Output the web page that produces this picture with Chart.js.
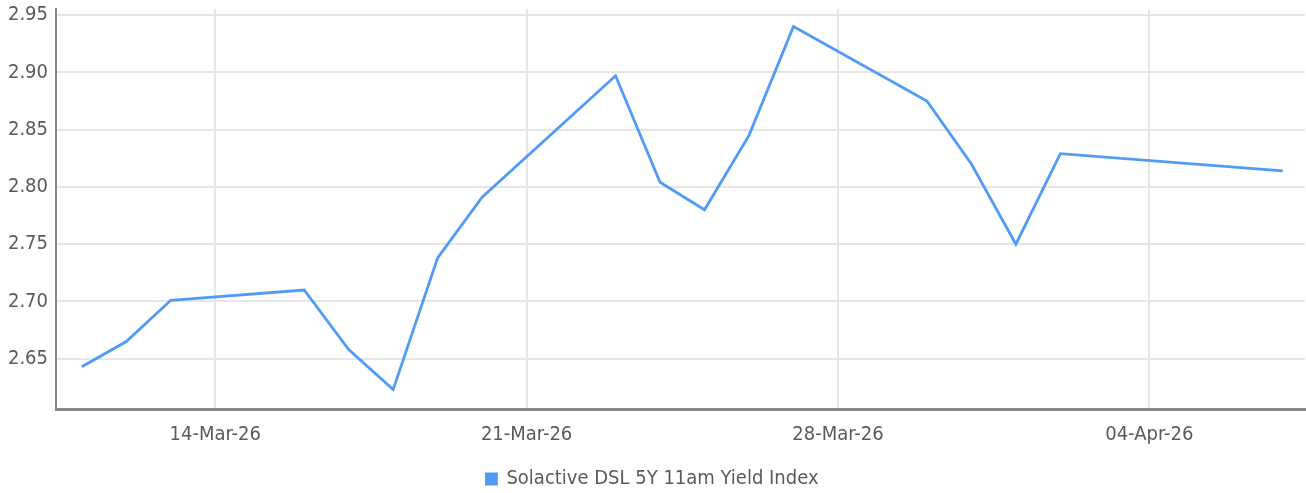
<!DOCTYPE html>
<html>
<head>
<meta charset="utf-8">
<style>
    html, body { margin: 0; padding: 0; background: #fff; }
    #wrap { width: 1306px; height: 493px; position: relative; }
</style>
<script src="https://cdn.jsdelivr.net/npm/chart.js@4/dist/chart.umd.min.js"></script>
</head>
<body>
<div id="wrap"><canvas id="yieldChart"></canvas></div>
<script>
// Data
const dates = [
    '2026-03-11', '2026-03-12', '2026-03-13', '2026-03-16', '2026-03-17', '2026-03-18',
    '2026-03-19', '2026-03-20', '2026-03-23', '2026-03-24', '2026-03-25', '2026-03-26',
    '2026-03-27', '2026-03-30', '2026-03-31', '2026-04-01', '2026-04-02', '2026-04-07'
];
const yieldValues = [
    2.643, 2.665, 2.701, 2.710, 2.658, 2.623,
    2.738, 2.791, 2.897, 2.804, 2.780, 2.845,
    2.940, 2.875, 2.820, 2.750, 2.829, 2.814
];
const xTickDates = ['2026-03-14', '2026-03-21', '2026-03-28', '2026-04-04'];
const xTickLabels = ['14-Mar-26', '21-Mar-26', '28-Mar-26', '04-Apr-26'];
const yTicks = [2.65, 2.70, 2.75, 2.80, 2.85, 2.90, 2.95];
const seriesName = 'Solactive DSL 5Y 11am Yield Index';

const DAY = 86400000;
const toDay = (s) => Date.parse(s + 'T00:00:00Z') / DAY;

const points = dates.map((d, i) => ({ x: toDay(d), y: yieldValues[i] }));
const xTickValues = xTickDates.map(toDay);

const fontFamily = '"Liberation Sans Narrow", "DejaVu Sans Condensed", Roboto, sans-serif';
const lineColor = '#4f9bf6';
const textColor = '#5a5a5a';

const ctx = document.getElementById('yieldChart').getContext('2d');
const chart = new Chart(ctx, {
    type: 'line',
    data: {
        datasets: [{
            label: seriesName,
            data: points,
            borderColor: lineColor,
            backgroundColor: lineColor,
            borderWidth: 2.8,
            pointRadius: 0,
            pointHoverRadius: 0,
            tension: 0
        }]
    },
    options: {
        responsive: true,
        maintainAspectRatio: false,
        animation: false,
        layout: { padding: { top: 9, right: 1, left: 0, bottom: -6 } },
        plugins: {
            tooltip: { enabled: false },
            legend: {
                position: 'bottom',
                labels: {
                    color: textColor,
                    boxWidth: 10,
                    boxHeight: 10,
                    padding: 2,
                    font: { family: fontFamily, size: 20 }
                }
            }
        },
        scales: {
            x: {
                type: 'linear',
                min: toDay('2026-03-10') + 0.42,
                max: toDay('2026-04-07') + 0.5,
                afterBuildTicks: (scale) => {
                    scale.ticks = xTickValues.map(v => ({ value: v }));
                },
                afterFit: (scale) => { scale.height = 58; },
                grid: {
                    color: '#e6e6e6',
                    lineWidth: 2,
                    drawTicks: false
                },
                border: { color: '#888', width: 3 },
                ticks: {
                    color: textColor,
                    padding: 14,
                    maxRotation: 0,
                    autoSkip: false,
                    font: { family: fontFamily, size: 20 },
                    callback: (value) => {
                        const i = xTickValues.indexOf(value);
                        return i >= 0 ? xTickLabels[i] : '';
                    }
                }
            },
            y: {
                min: 2.6061,
                max: 2.9553,
                afterBuildTicks: (scale) => {
                    scale.ticks = yTicks.map(v => ({ value: v }));
                },
                afterFit: (scale) => { scale.width = 56; },
                grid: {
                    color: '#e6e6e6',
                    lineWidth: 2,
                    drawTicks: false
                },
                border: { color: '#888', width: 2 },
                ticks: {
                    color: textColor,
                    padding: 8,
                    font: { family: fontFamily, size: 20, lineHeight: 0.1 },
                    callback: (value) => value.toFixed(2)
                }
            }
        }
    }
});
</script>
</body>
</html>
